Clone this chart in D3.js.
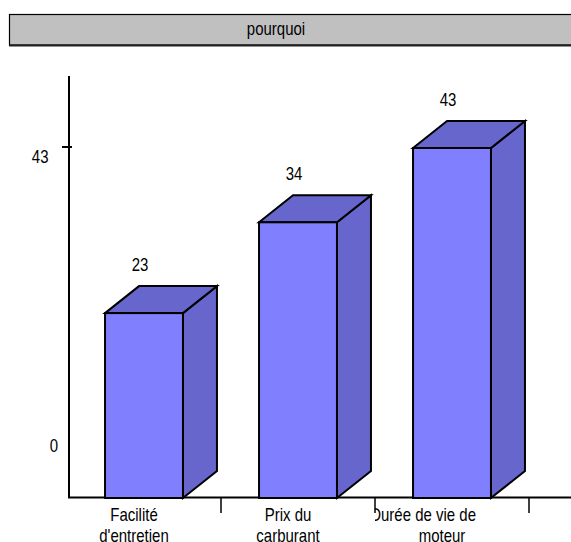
<!DOCTYPE html>
<html>
<head>
<meta charset="utf-8">
<script src="https://cdn.jsdelivr.net/npm/d3@7"></script>
<style>
  html, body { margin: 0; padding: 0; background: #fff; }
  svg { display: block; }
  text { font-family: "Liberation Sans", Arial, sans-serif; }
</style>
</head>
<body>
<svg id="chart" width="571" height="542"></svg>
<script>
// ---- data ----
const title = "pourquoi";
const categoryLines = [["Facilité", "d'entretien"], ["Prix du", "carburant"], ["Durée de vie de", "moteur"]];
const categories = categoryLines.map(l => l.join(" "));
const values = [23, 34, 43];
const yTickValues = [0, 43];

// ---- layout ----
const svg = d3.select("#chart");
const W = 571, H = 542;
const frontFill = "#8080ff", darkFill = "#6666cc";
const depthX = 34, depthY = 27;
const baseY = 498;
const FS = 17.5, SX = 0.857;

// text helper: narrow (horizontally condensed) Arial-like text
function ntext(parent, x, y, str, anchor) {
  return parent.append("text")
    .attr("transform", `translate(${x},${y}) scale(${SX},1)`)
    .attr("text-anchor", anchor || "middle")
    .attr("font-size", FS).attr("fill", "#000").text(str);
}

const x = d3.scaleBand().domain(categories).range([67, 529]).paddingInner(0).paddingOuter(0);
const y = d3.scaleLinear().domain([0, 43]).range([503, 148]);
const yLabel = d3.scaleLinear().domain([0, 43]).range([445, 156]);
const barW = x.bandwidth() * 0.506;

// title box
svg.append("rect").attr("x", 9.5).attr("y", 14.5).attr("width", 575).attr("height", 30.5)
  .attr("fill", "#c0c0c0").attr("stroke", "#000").attr("stroke-width", 1.2);
svg.append("line").attr("x1", 9).attr("x2", 571).attr("y1", 45.5).attr("y2", 45.5)
  .attr("stroke", "#222").attr("stroke-width", 2);
ntext(svg, 276, 34.5, title);

// y axis
const yAxisX = 69;
svg.append("line").attr("x1", yAxisX).attr("x2", yAxisX).attr("y1", 76).attr("y2", 498)
  .attr("stroke", "#000").attr("stroke-width", 2);
yTickValues.forEach(v => {
  if (v !== 0) {
    svg.append("line").attr("x1", 62).attr("x2", 72).attr("y1", y(v) - 1).attr("y2", y(v) - 1)
      .attr("stroke", "#000").attr("stroke-width", 2);
  }
  ntext(svg, v === 0 ? 58 : 48.5, yLabel(v) + 6.5, d3.format("d")(v), "end");
});

// x axis
svg.append("line").attr("x1", yAxisX - 1).attr("x2", W).attr("y1", 497.5).attr("y2", 497.5)
  .attr("stroke", "#000").attr("stroke-width", 2);
categories.forEach(c => {
  const tx = x(c) + x.bandwidth();
  svg.append("line").attr("x1", tx).attr("x2", tx).attr("y1", 497).attr("y2", 513)
    .attr("stroke", "#000").attr("stroke-width", 1.5);
});

// bars
const bars = svg.append("g");
categories.forEach((c, i) => {
  const v = values[i];
  const x0 = x(c) + (x.bandwidth() - barW) / 2;
  const x1 = x0 + barW;
  const top = y(v);
  const g = bars.append("g");
  const line = d3.line();
  g.append("path").attr("d", line([[x1, top], [x1 + depthX, top - depthY], [x1 + depthX, baseY - depthY], [x1, baseY]]) + "Z")
    .attr("fill", darkFill).attr("stroke", "#000").attr("stroke-width", 2).attr("stroke-linejoin", "miter");
  g.append("path").attr("d", line([[x0, top], [x0 + depthX, top - depthY], [x1 + depthX, top - depthY], [x1, top]]) + "Z")
    .attr("fill", darkFill).attr("stroke", "#000").attr("stroke-width", 2).attr("stroke-linejoin", "miter");
  g.append("rect").attr("x", x0).attr("y", top).attr("width", barW).attr("height", baseY - top)
    .attr("fill", frontFill).attr("stroke", "#000").attr("stroke-width", 2);
  // value label
  ntext(svg, (x0 + x1) / 2 - 4, top - depthY - 15.5, v);
});

// category labels
const defs = svg.append("defs");
categories.forEach((c, i) => {
  const id = "clip" + i;
  defs.append("clipPath").attr("id", id).append("rect")
    .attr("x", x(c)).attr("y", 500).attr("width", x.bandwidth()).attr("height", 60);
  const cx = x(c) + x.bandwidth() / 2 - 10;
  const g = svg.append("g").attr("clip-path", `url(#${id})`);
  categoryLines[i].forEach((ln, j) => {
    const t = ntext(g, cx, 521 + j * 21, ln);
    const w = t.node().getComputedTextLength() * SX;
    if (w > 100) {
      t.attr("text-anchor", "end").attr("transform", `translate(${cx + 34},${521 + j * 21}) scale(${SX},1)`);
    }
  });
});
</script>
</body>
</html>
